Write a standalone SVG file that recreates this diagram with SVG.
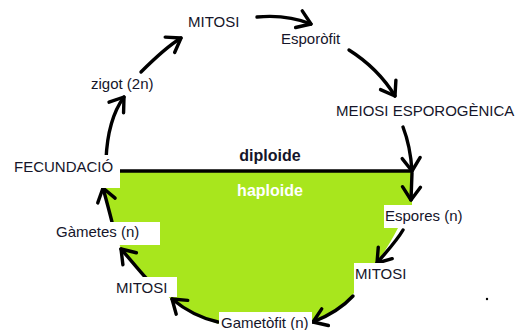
<svg xmlns="http://www.w3.org/2000/svg" width="521" height="330" viewBox="0 0 521 330">
<style>
.t{font-family:"Liberation Sans",Arial,sans-serif;font-size:15px;fill:#15152a}
.b{font-family:"Liberation Sans",Arial,sans-serif;font-size:16px;font-weight:bold;text-anchor:middle}
.a{fill:none;stroke:#000;stroke-width:3.4;stroke-linecap:round;stroke-linejoin:round}
.box{fill:#fff}
</style>
<defs>
<marker id="h" markerUnits="userSpaceOnUse" markerWidth="30" markerHeight="30" refX="0" refY="0" orient="auto" overflow="visible">
<path d="M-13,-9 L0,0 L-13,9" fill="none" stroke="#000" stroke-width="3.4" stroke-linecap="round" stroke-linejoin="round"/>
</marker>
</defs>
<rect width="521" height="330" fill="#fff"/>
<g id="haploid-area">
<path d="M120,171 L412,171 L412,205 L398,228 C392,240 384,252 377,263 L354,293 C345,305 330,315 312,322 L219,324 C200,318 186,310 172,300 L150,280 L121,249 L112,222 L104,188 L120,188 Z" fill="#a8e61d"/>
<path d="M120,171 L412,171" stroke="#000" stroke-width="3.5" fill="none"/>
</g>
<g id="connectors">
<path class="a" d="M141,72 C155,58 168,46 181,38" marker-end="url(#h)"/>
<path class="a" d="M106,160 C107,135 113,112 124,97" marker-end="url(#h)"/>
<path class="a" d="M257,17 C278,15 296,18 311,24" marker-end="url(#h)"/>
<path class="a" d="M349,50 C368,62 384,78 395,96" marker-end="url(#h)"/>
<path class="a" d="M403,127 C408,140 411,155 412,171" marker-end="url(#h)"/>
<path class="a" d="M412,173 L411,200" marker-end="url(#h)"/>
<path class="a" d="M403,230 C396,242 386,252 377,263" marker-end="url(#h)"/>
<path class="a" d="M353,296 C342,308 328,316 313,322" marker-end="url(#h)"/>
<path class="a" d="M218,322 C200,318 184,309 172,299" marker-end="url(#h)"/>
<path class="a" d="M146,278 C137,268 129,258 121,249" marker-end="url(#h)"/>
<path class="a" d="M112,222 C109,210 106,199 103,188" marker-end="url(#h)"/>
</g>
<g id="n-fecundacio"><rect class="box" x="10" y="155" width="110" height="33"/><text class="t" x="14" y="172">FECUNDACIÓ</text></g>
<g id="n-zigot"><text class="t" x="91" y="89">zigot (2n)</text></g>
<g id="n-mitosi1"><text class="t" x="188" y="27">MITOSI</text></g>
<g id="n-esporofit"><text class="t" x="281" y="44">Esporòfit</text></g>
<g id="n-meiosi"><text class="t" x="336" y="116">MEIOSI ESPOROGÈNICA</text></g>
<g id="n-diploide"><text class="b" x="270" y="161" fill="#15152a">diploide</text></g>
<g id="n-haploide"><text class="b" x="270" y="196" fill="#fff">haploide</text></g>
<g id="n-espores"><rect class="box" x="384" y="205" width="78" height="23"/><text class="t" x="385" y="221">Espores (n)</text></g>
<g id="n-mitosi2"><rect class="box" x="354" y="263" width="51" height="30"/><text class="t" x="355" y="279">MITOSI</text></g>
<g id="n-gametofit"><rect class="box" x="219" y="312" width="93" height="18"/><text class="t" x="221" y="328">Gametòfit (n)</text></g>
<g id="n-mitosi3"><rect class="box" x="113" y="277" width="64" height="20"/><text class="t" x="116" y="293">MITOSI</text></g>
<g id="n-gametes"><rect class="box" x="55" y="222" width="105" height="23"/><text class="t" x="56" y="237">Gàmetes (n)</text></g>
<circle cx="487" cy="299" r="1.2" fill="#000"/>
</svg>
